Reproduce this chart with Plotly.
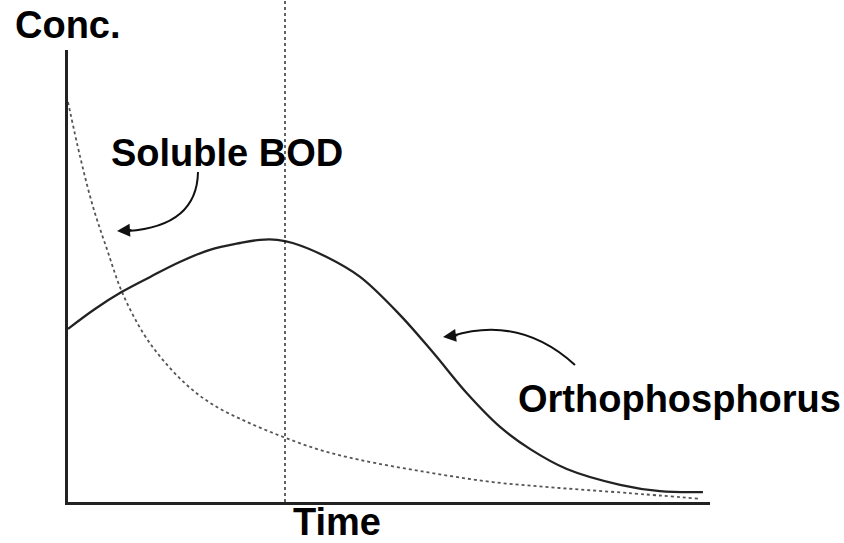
import plotly.graph_objects as go

# Data (time and concentration in arbitrary units)
ortho_time = [0, 4.2, 8.4, 12.8, 17.4, 22.1, 26.8, 29.9, 32.6, 35.0, 40.3, 45.5,
              51.7, 56.9, 62.1, 67.3, 72.0, 77.7, 86.0, 92.2, 98.9]
ortho_conc = [38.3, 42.7, 46.5, 49.8, 53.1, 55.8, 57.3, 58.0, 58.0, 57.3, 54.2, 49.8,
              41.4, 33.0, 24.1, 16.6, 11.7, 7.3, 3.8, 2.4, 2.2]

bod_time = [0, 1.9, 3.9, 6.1, 8.4, 11.7, 14.8, 18.5, 22.6, 27.9, 33.5, 39.3, 45.5, 55.9,
            66.2, 76.6, 87.1, 98.4]
bod_conc = [88.5, 76.3, 65.3, 55.8, 46.5, 37.4, 31.4, 25.9, 21.5, 17.7, 14.4, 11.5, 9.3, 6.6,
            4.4, 3.1, 2.0, 0.7]

marker_time = 33.8  # vertical dotted line

# Figure geometry
W, H = 844, 543
L, R, T, B = 68, 134, 50, 41
PW, PH = W - L - R, H - T - B
X_MAX, Y_MAX = 100, 100


def px_to_data(x, y):
    return (x - L) / PW * X_MAX, (T + PH - y) / PH * Y_MAX


def px_to_paper(x, y):
    return (x - L) / PW, (T + PH - y) / PH


FONT = "Liberation Sans, Arial, sans-serif"
fig = go.Figure()

fig.add_trace(go.Scatter(x=bod_time, y=bod_conc, mode="lines",
                         line=dict(color="#555555", width=1.8, dash="dot", shape="spline"),
                         hoverinfo="skip", showlegend=False))
fig.add_trace(go.Scatter(x=ortho_time, y=ortho_conc, mode="lines",
                         line=dict(color="#222222", width=2.3, shape="spline", smoothing=1.0),
                         hoverinfo="skip", showlegend=False))

# vertical dotted line
fig.add_shape(type="line", xref="x", yref="paper", x0=marker_time, x1=marker_time,
              y0=0, y1=(T + PH) / PH, line=dict(color="#111111", width=1.3, dash="dot"))


def curve_path(p0, c, p1):
    a = px_to_data(*p0)
    b = px_to_data(*c)
    d = px_to_data(*p1)
    return f"M {a[0]},{a[1]} Q {b[0]},{b[1]} {d[0]},{d[1]}"


# curved arrows
fig.add_shape(type="path", xref="x", yref="y",
              path=curve_path((198, 172), (197, 226), (128, 231)),
              line=dict(color="#111111", width=2))
fig.add_shape(type="path", xref="x", yref="y",
              path=curve_path((575, 365), (520, 315), (452, 336)),
              line=dict(color="#111111", width=2))

for tip, off in [((117, 231), (16, -1)), ((443, 337), (16, -2))]:
    tx, ty = px_to_data(*tip)
    fig.add_annotation(x=tx, y=ty, xref="x", yref="y", ax=off[0], ay=off[1], text="",
                       showarrow=True, arrowhead=2, arrowsize=1.3, arrowwidth=2,
                       arrowcolor="#111111")

labels = [("Conc.", (14, 25), "left"), ("Soluble BOD", (110, 153), "left"),
          ("Orthophosphorus", (517, 399), "left"), ("Time", (337, 522), "center")]
for txt, (x, y), anchor in labels:
    xp, yp = px_to_paper(x, y)
    fig.add_annotation(x=xp, y=yp, xref="paper", yref="paper", text=f"<b>{txt}</b>",
                       showarrow=False, xanchor=anchor, yanchor="middle", borderpad=0,
                       font=dict(family=FONT, size=38, color="#000000"))

fig.update_layout(width=W, height=H, autosize=False,
                  margin=dict(l=L, r=R, t=T, b=B, pad=0),
                  paper_bgcolor="white", plot_bgcolor="white", showlegend=False)
fig.update_xaxes(range=[0, X_MAX], showline=True, linecolor="#222222", linewidth=2.5,
                 showgrid=False, zeroline=False, showticklabels=False, ticks="")
fig.update_yaxes(range=[0, Y_MAX], showline=True, linecolor="#222222", linewidth=2.5,
                 showgrid=False, zeroline=False, showticklabels=False, ticks="")

fig.write_html("out.html", config={"displayModeBar": False},
               post_script="document.body.style.margin='0';document.body.style.overflow='hidden';")
